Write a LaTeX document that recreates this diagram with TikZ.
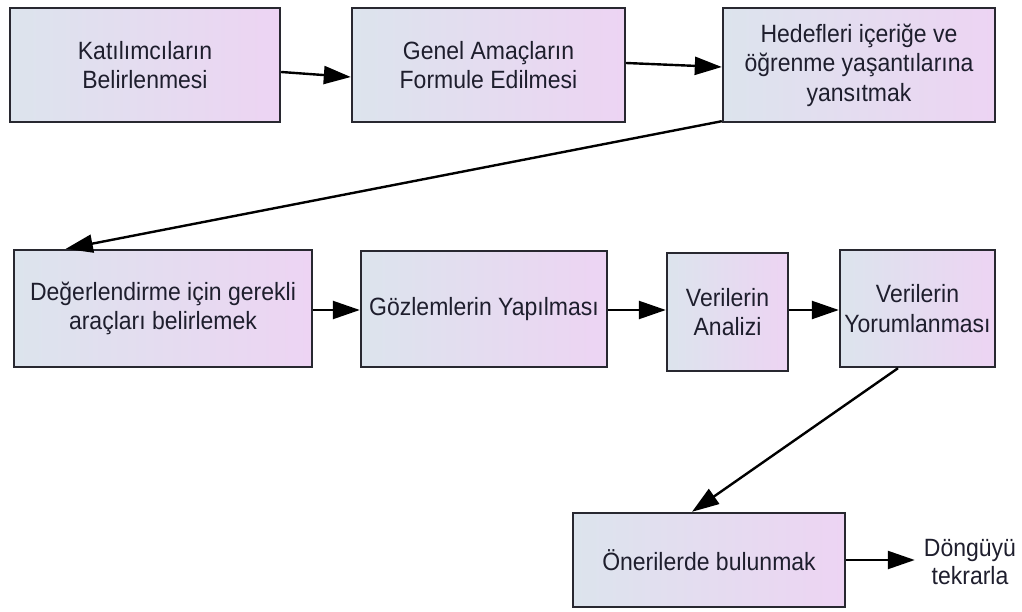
\documentclass[tikz,border=0pt]{standalone}
\usepackage{fontspec}
\setmainfont[FakeStretch=0.92]{Liberation Sans}
\usetikzlibrary{arrows.meta}
\definecolor{cl}{RGB}{220,228,237}
\definecolor{cr}{RGB}{237,212,243}
\definecolor{bd}{RGB}{40,40,48}
\definecolor{tx}{RGB}{30,30,45}
\begin{document}
\begin{tikzpicture}[x=1pt,y=-1pt,
  box/.style={draw=bd, line width=2.4pt, left color=cl, right color=cr, align=center,
    inner sep=0pt, font=\fontsize{25}{29.5}\selectfont, text=tx},
  plain/.style={align=center, inner ysep=0pt, inner xsep=9pt, font=\fontsize{25}{28}\selectfont, text=tx},
  conn/.style={draw=black, line width=2.4pt, -{Triangle[length=27pt,width=18pt]}}]
\useasboundingbox (0,0) rectangle (1022,612);
\node[box, minimum width=270pt, minimum height=114pt] (b1) at (145,65) {Katılımcıların\\Belirlenmesi};
\node[box, minimum width=273pt, minimum height=114pt] (b2) at (488.5,65) {Genel Amaçların\\Formule Edilmesi};
\node[box, minimum width=272pt, minimum height=114pt] (b3) at (859,65) {Hedefleri içeriğe ve\\öğrenme yaşantılarına\\yansıtmak};
\node[box, minimum width=298pt, minimum height=117pt] (b4) at (163,308.5) {Değerlendirme için gerekli\\araçları belirlemek};
\node[box, minimum width=246pt, minimum height=116pt] (b5) at (484,309) {Gözlemlerin Yapılması};
\node[box, minimum width=121pt, minimum height=118pt] (b6) at (727.5,312) {Verilerin\\Analizi};
\node[box, minimum width=155pt, minimum height=117pt] (b7) at (917.5,308.5) {Verilerin\\Yorumlanması};
\node[box, minimum width=272pt, minimum height=94pt] (b8) at (709,560) {Önerilerde bulunmak};
\node[plain] (end) at (970,562) {Döngüyü\\tekrarla};
\draw[conn] ([yshift=-7pt]b1.east) -- ([yshift=-12pt]b2.west);
\draw[conn] ([yshift=2pt]b2.east) -- ([yshift=-2pt]b3.west);
\draw[conn] ([yshift=2pt]b3.south west) -- ([xshift=53pt]b4.north west);
\draw[conn] ([yshift=-1.5pt]b4.east) -- ([yshift=-1pt]b5.west);
\draw[conn] ([yshift=-1pt]b5.east) -- ([yshift=2pt]b6.west);
\draw[conn] ([yshift=2pt]b6.east) -- ([yshift=-1.5pt]b7.west);
\draw[conn] ([xshift=-19.5pt]b7.south) -- ([xshift=-17pt]b8.north);
\draw[conn] (b8.east) -- (end.west |- b8.east);
\end{tikzpicture}
\end{document}
